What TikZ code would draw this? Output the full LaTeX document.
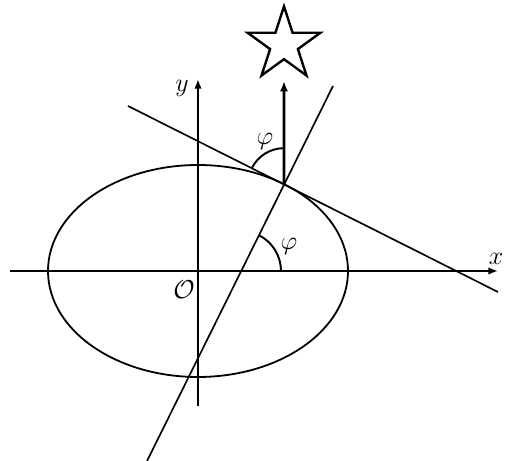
\documentclass[tikz,border=0pt]{standalone}
\usetikzlibrary{positioning}
\usetikzlibrary{arrows.meta}
\usetikzlibrary{calc}
\usetikzlibrary{shapes.geometric}
\tikzset{
  % axes and plain lines
  axis/.style={draw=black, line width=1.2pt, -{Latex[length=6.5pt,width=5pt]}},
  ray/.style={draw=black, line width=1.1pt},
  curve/.style={draw=black, line width=1.2pt},
  % direction to the star
  sight/.style={draw=black, line width=1.9pt, -{Latex[length=7pt,width=5.5pt]}},
  anglemark/.style={draw=black, line width=1.3pt},
  lbl/.style={inner sep=1pt, font=\LARGE},
  startip/.style={draw=black, line width=1.6pt, star, star points=5,
    star point ratio=2.618, inner sep=0pt, minimum size=#1},
}
\begin{document}
\begin{tikzpicture}[x=0.6667pt, y=0.6667pt]
\useasboundingbox (0,0) rectangle (506,461);

% axes
\coordinate (O) at (198,190);
\coordinate (xl) at (10,190);
\coordinate (xr) at (498,190);
\coordinate (yb) at (198,55);
\coordinate (yt) at (198,382);
\draw[axis] (xl) -- (xr);
\draw[axis] (yb) -- (yt);
\node[lbl] (xlab) at (496,202) {$x$};
\node[lbl] (ylab) at (182,373) {$y$};
\node[lbl] (olab) at (184,171) {$\mathcal{O}$};

% the ellipse and the point on it
\draw[curve] (O) ellipse [x radius=150, y radius=106];
\coordinate (P) at ($(O)+({150*cos(55)},{106*sin(55)})$);

% tangent and normal
\coordinate (tA) at (128,355);
\coordinate (tB) at (498,169);
\coordinate (nA) at (333,375);
\coordinate (nB) at (147,0);
\coordinate (N) at (241,190);
\draw[ray] (tA) -- (tB);
\draw[ray] (nA) -- (nB);

% star and line of sight
\node[startip=51pt] (star) at (284,416.4) {};
\coordinate (top) at (284,380);
\draw[sight] (P) -- (top);

% angles
\draw[anglemark] ($(N)+(40,0)$) arc [start angle=0, end angle=63.7, radius=40];
\node[lbl] (phia) at (289,215) {$\varphi$};
\draw[anglemark] ($(P)+(0,36)$) arc [start angle=90, end angle=153.7, radius=36];
\node[lbl] (phib) at (265,320) {$\varphi$};

\end{tikzpicture}
\end{document}
